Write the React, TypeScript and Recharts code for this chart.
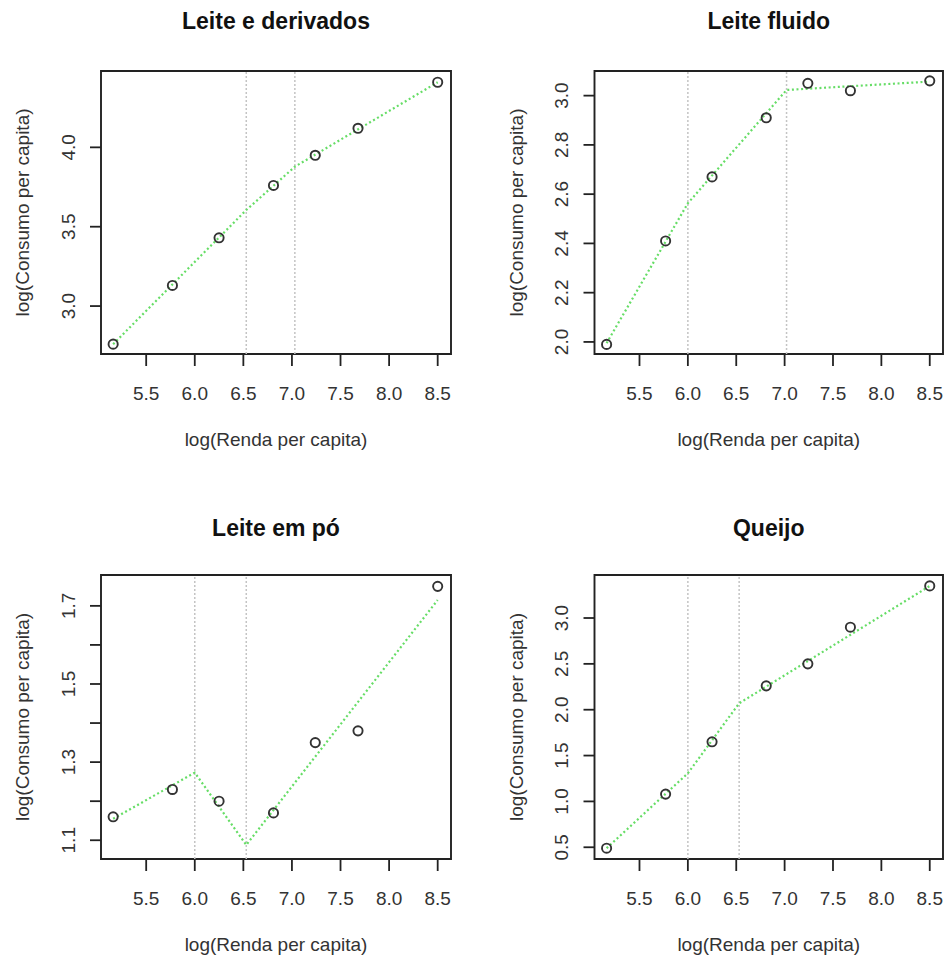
import React from "react";
import {
  ComposedChart, Scatter, Line, XAxis, YAxis, ReferenceLine, ReferenceArea,
} from "recharts";

// log(renda per capita) por classe de renda — same for all four products
const incomeLog = [5.16, 5.77, 6.25, 6.81, 7.24, 7.68, 8.5];
const xTicks = [5.5, 6.0, 6.5, 7.0, 7.5, 8.0, 8.5];

// observed log(consumo per capita)
const leiteDerivados = [2.76, 3.13, 3.43, 3.76, 3.95, 4.12, 4.41];
const leiteFluido = [1.99, 2.41, 2.67, 2.91, 3.05, 3.02, 3.06];
const leitePo = [1.16, 1.23, 1.2, 1.17, 1.35, 1.38, 1.75];
const queijo = [0.49, 1.08, 1.65, 2.26, 2.5, 2.9, 3.35];

// piecewise linear fit (ends + knots)
const leiteDerivadosFitX = [5.16, 6.53, 7.03, 8.5];
const leiteDerivadosFitY = [2.76, 3.605, 3.878, 4.41];
const leiteFluidoFitX = [5.16, 6.0, 7.02, 8.5];
const leiteFluidoFitY = [1.995, 2.563, 3.023, 3.057];
const leitePoFitX = [5.16, 6.0, 6.53, 8.5];
const leitePoFitY = [1.155, 1.273, 1.088, 1.715];
const queijoFitX = [5.16, 6.0, 6.53, 8.5];
const queijoFitY = [0.49, 1.307, 2.07, 3.349];

// knots
const leiteDerivadosKnots = [6.53, 7.03];
const leiteFluidoKnots = [6.0, 7.02];
const leitePoKnots = [6.0, 6.53];
const queijoKnots = [6.0, 6.53];

// y axis ticks / labelled ticks
const leiteDerivadosTicks = [3.0, 3.5, 4.0];
const leiteFluidoTicks = [2.0, 2.2, 2.4, 2.6, 2.8, 3.0];
const leitePoTicks = [1.1, 1.2, 1.3, 1.4, 1.5, 1.6, 1.7];
const leitePoLabels = [1.1, 1.3, 1.5, 1.7];
const queijoTicks = [0.5, 1.0, 1.5, 2.0, 2.5, 3.0];

const FONT = '"Liberation Sans", Arial, sans-serif';
const X_DOMAIN: [number, number] = [5.035, 8.637];

const zip = (xs: number[], ys: number[]) => xs.map((x, i) => ({ x, y: ys[i] }));

type PanelDef = {
  title: string;
  ys: number[];
  fitX: number[];
  fitY: number[];
  knots: number[];
  yTicks: number[];
  yLabels?: number[];
  yDomain: [number, number];
  cell: { x: number; y: number; w: number; h: number };
  box: { L: number; T: number; R: number; B: number };
  titleY: number;
};

const panels: PanelDef[] = [
  {
    title: "Leite e derivados", ys: leiteDerivados, fitX: leiteDerivadosFitX, fitY: leiteDerivadosFitY,
    knots: leiteDerivadosKnots, yTicks: leiteDerivadosTicks, yDomain: [2.698, 4.481],
    cell: { x: 0, y: 0, w: 475, h: 480 }, box: { L: 101, T: 71, R: 451, B: 354 }, titleY: 29,
  },
  {
    title: "Leite fluido", ys: leiteFluido, fitX: leiteFluidoFitX, fitY: leiteFluidoFitY,
    knots: leiteFluidoKnots, yTicks: leiteFluidoTicks, yDomain: [1.951, 3.1],
    cell: { x: 475, y: 0, w: 476, h: 480 }, box: { L: 594.5, T: 71, R: 943, B: 354 }, titleY: 29,
  },
  {
    title: "Leite em pó", ys: leitePo, fitX: leitePoFitX, fitY: leitePoFitY,
    knots: leitePoKnots, yTicks: leitePoTicks, yLabels: leitePoLabels, yDomain: [1.052, 1.779],
    cell: { x: 0, y: 480, w: 475, h: 480 }, box: { L: 101, T: 575, R: 451, B: 859 }, titleY: 536,
  },
  {
    title: "Queijo", ys: queijo, fitX: queijoFitX, fitY: queijoFitY,
    knots: queijoKnots, yTicks: queijoTicks, yDomain: [0.372, 3.469],
    cell: { x: 475, y: 480, w: 476, h: 480 }, box: { L: 594.5, T: 575, R: 943, B: 859 }, titleY: 536,
  },
];

const XTick = (props: any) => {
  const { x, y, payload } = props;
  return (
    <text x={x} y={y + 34} textAnchor="middle" fontSize={19} fontFamily={FONT} fill="#333">
      {payload.value.toFixed(1)}
    </text>
  );
};

const makeYTick = (labels?: number[]) => (props: any) => {
  const { x, y, payload } = props;
  const v = payload.value;
  if (labels && !labels.some((l) => Math.abs(l - v) < 1e-6)) return <g />;
  return (
    <text x={x} y={y} transform={`rotate(-90 ${x} ${y})`} textAnchor="middle"
      fontSize={19} fontFamily={FONT} fill="#333">
      {v.toFixed(1)}
    </text>
  );
};

const Circle = (props: any) => (
  <circle cx={props.cx} cy={props.cy} r={4.6} fill="none" stroke="#333" strokeWidth={1.9} />
);

function Panel({ p }: { p: PanelDef }) {
  const { cell, box } = p;
  const yAxisW = box.L - cell.x;
  const xAxisH = cell.y + cell.h - box.B;
  return (
    <div style={{ position: "absolute", left: cell.x, top: cell.y }}>
      <ComposedChart
        width={cell.w}
        height={cell.h}
        margin={{ top: box.T - cell.y, right: cell.x + cell.w - box.R, left: 0, bottom: 0 }}
      >
        <XAxis type="number" dataKey="x" domain={X_DOMAIN} ticks={xTicks} allowDataOverflow
          height={xAxisH} axisLine={false} tickSize={12} tickMargin={0} interval={0}
          tickLine={{ stroke: "#222", strokeWidth: 1.8 }} tick={<XTick />} />
        <YAxis type="number" dataKey="y" domain={p.yDomain} ticks={p.yTicks} allowDataOverflow
          width={yAxisW} axisLine={false} tickSize={11} tickMargin={15} interval={0}
          tickLine={{ stroke: "#222", strokeWidth: 1.8 }} tick={makeYTick(p.yLabels)} />
        {p.knots.map((k) => (
          <ReferenceLine key={k} x={k} stroke="#c4c4c4" strokeWidth={1.5} strokeDasharray="2 2" />
        ))}
        <Line data={zip(p.fitX, p.fitY)} dataKey="y" type="linear" stroke="#66dd66"
          strokeWidth={2.2} strokeDasharray="2 2.6" dot={false} activeDot={false}
          isAnimationActive={false} />
        <Scatter data={zip(incomeLog, p.ys)} dataKey="y" shape={Circle} isAnimationActive={false} />
        <ReferenceArea x1={X_DOMAIN[0]} x2={X_DOMAIN[1]} y1={p.yDomain[0]} y2={p.yDomain[1]}
          fill="none" fillOpacity={0} stroke="#222" strokeWidth={1.9} ifOverflow="visible" />
      </ComposedChart>
    </div>
  );
}

export default function App() {
  return (
    <div style={{ position: "absolute", left: 0, top: 0, width: 951, height: 960, background: "#fff" }}>
      {panels.map((p) => (
        <Panel key={p.title} p={p} />
      ))}
      <svg width={951} height={960} style={{ position: "absolute", left: 0, top: 0, pointerEvents: "none" }}>
        {panels.map((p) => {
          const cx = (p.box.L + p.box.R) / 2;
          const cy = (p.box.T + p.box.B) / 2;
          const lx = p.box.L - 72;
          return (
            <g key={p.title} fontFamily={FONT}>
              <text x={cx} y={p.titleY} textAnchor="middle" fontSize={23} fontWeight="bold" fill="#111">
                {p.title}
              </text>
              <text x={cx} y={p.box.B + 92} textAnchor="middle" fontSize={19} fill="#333">
                log(Renda per capita)
              </text>
              <text x={lx} y={cy} transform={`rotate(-90 ${lx} ${cy})`} textAnchor="middle"
                fontSize={19} fill="#333">
                log(Consumo per capita)
              </text>
            </g>
          );
        })}
      </svg>
    </div>
  );
}
